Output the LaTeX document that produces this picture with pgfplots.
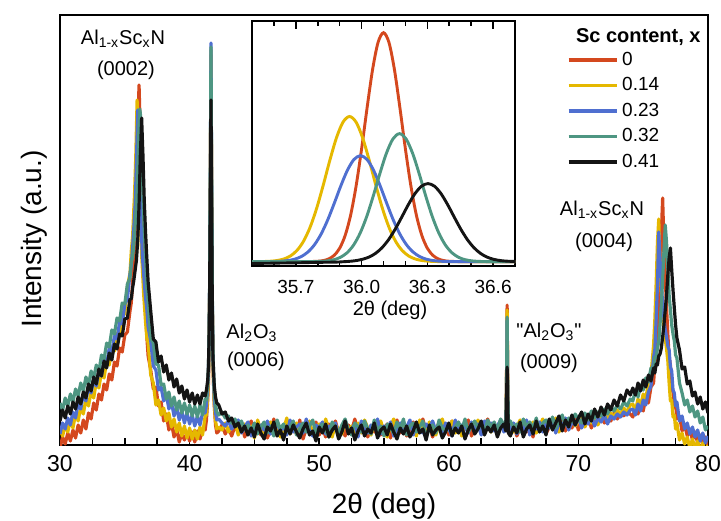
\documentclass[border=0pt]{standalone}
\usepackage{fontspec}
\setmainfont{Liberation Sans}
\newfontfamily\qfont{Liberation Sans}
\usepackage{pgfplots}
\usepackage{pgfplotstable}
\pgfplotsset{compat=1.18}
\definecolor{cR}{HTML}{D4481E}
\definecolor{cY}{HTML}{E5B800}
\definecolor{cB}{HTML}{4F6FD0}
\definecolor{cG}{HTML}{4E9682}
\definecolor{cK}{HTML}{141414}

\pgfplotstableread{
x r y b g k
30.0 -3 16 11 42 24
30.2 8 9 22 35 35
30.4 1 20 16 47 27
30.6 12 13 27 39 39
30.8 4 25 20 51 31
31.0 15 17 33 43 43
31.2 7 31 27 56 36
31.4 20 24 42 49 48
31.6 12 38 36 62 41
31.8 25 31 51 54 53
32.0 16 46 44 68 47
32.2 32 39 59 60 61
32.4 26 54 52 74 54
32.6 42 47 66 67 68
32.8 35 63 59 80 61
33.0 51 57 74 73 76
33.2 45 73 69 90 69
33.4 61 67 86 86 84
33.6 55 84 81 102 77
33.8 71 80 97 98 92
34.0 65 98 93 115 85
34.2 83 94 109 111 101
34.4 79 112 106 127 96
34.6 97 111 123 124 111
34.8 93 130 121 142 109
35.0 110 131 141 141 126
35.2 113 158 146 161 127
35.4 134 172 171 167 146
35.5 142 194 180 183 146
35.6 162 208 197 188 157
35.7 185 237 218 200 165
35.75 198 250 229 210 170
35.8 210 270 240 220 175
35.85 233 290 262 230 180
35.9 257 318 285 240 185
35.95 280 345 310 258 195
36.0 310 322 335 275 205
36.05 340 300 315 298 222
36.1 360 272 295 320 240
36.15 335 245 268 336 265
36.2 302 227 240 332 290
36.25 270 208 223 315 308
36.3 251 190 207 292 327
36.35 231 178 190 270 308
36.4 212 165 181 252 290
36.45 193 152 172 233 268
36.5 175 142 163 215 245
36.6 140 123 147 188 213
36.7 108 107 136 157 187
36.8 89 102 118 143 163
37.0 75 70 104 107 134
37.2 56 62 79 102 106
37.4 58 40 75 81 103
37.6 39 45 55 80 83
37.8 43 30 58 60 89
38.0 24 37 44 61 73
38.2 31 24 51 46 80
38.4 15 32 36 53 65
38.6 22 18 43 39 72
38.8 8 26 29 48 58
39.0 16 13 38 35 66
39.2 3 22 25 44 52
39.4 12 9 34 32 59
39.6 5 19 22 42 46
39.8 12 7 32 31 55
40.0 4 17 21 40 43
40.2 13 6 30 29 52
40.4 3 15 19 39 41
40.6 14 6 29 28 50
40.8 6 18 20 40 41
41.0 16 10 32 30 52
41.2 15 29 32 46 49
41.3 25 30 40 45 55
41.4 45 50 58 62 65
41.45 60 65 72 76 78
41.5 90 95 100 104 105
41.55 150 155 160 165 160
41.6 260 265 270 275 255
41.65 390 395 402 398 345
41.7 250 255 262 268 240
41.75 140 145 150 155 140
41.8 80 82 88 92 88
41.9 40 42 48 55 60
42.0 20 24 32 40 48
42.1 12 16 25 33 42
42.25 14 18 26 30 40
42.5 20 15 22 33 31
42.75 11 22 19 27 33
43 17 13 24 29 24
43.25 9 20 16 22 27
43.5 19 24 21 26 18
43.75 13 10 25 19 22
44 22 17 12 24 13
44.25 8 21 18 15 19
44.5 16 12 23 20 10
44.75 24 19 9 14 17
45 12 7 17 22 8
45.25 18 25 13 11 21
45.5 10 14 20 18 12
45.75 21 9 15 23 6
46 7 18 24 12 18
46.25 15 23 11 19 14
46.5 26 12 16 9 23
46.75 13 20 22 25 9
47 18 8 14 16 15
47.25 9 16 19 21 5
47.5 22 27 10 13 19
47.75 14 11 25 18 11
48 19 17 13 24 20
48.25 11 22 18 10 13
48.5 25 9 21 16 7
48.75 6 19 12 22 16
49 16 14 26 13 22
49.25 20 24 15 19 10
49.5 12 10 9 25 14
49.75 23 18 20 11 4
50 10 21 17 17 18
50.25 17 13 23 21 12
50.5 8 26 11 14 21
50.75 21 15 19 8 8
51 15 8 14 23 15
51.25 24 20 22 17 19
51.5 12 16 10 12 6
51.75 18 11 18 20 13
52 9 23 25 26 24
52.25 20 14 13 15 11
52.5 14 19 16 10 17
52.75 26 9 21 22 5
53 11 22 8 18 14
53.25 17 12 24 13 20
53.5 22 25 15 24 9
53.75 8 17 12 16 16
54 19 10 20 11 12
54.25 13 21 17 25 22
54.5 24 15 26 14 7
54.75 10 24 11 19 15
55 16 13 19 9 18
55.25 21 8 14 21 10
55.5 7 19 23 17 21
55.75 18 26 9 12 13
56 25 11 16 23 6
56.25 12 16 22 15 17
56.5 19 22 13 26 11
56.75 9 12 18 10 19
57 15 20 25 19 8
57.25 23 14 10 22 14
57.5 11 9 20 13 23
57.75 17 25 15 18 12
58 26 18 12 24 16
58.25 13 11 21 8 5
58.5 20 23 17 16 20
58.75 8 15 24 20 10
59 16 10 14 12 15
59.25 22 21 19 25 18
59.5 14 26 11 17 7
59.75 19 13 22 14 13
60 10 18 16 21 22
60.25 24 24 9 11 9
60.5 15 12 25 18 17
60.75 21 19 13 23 12
61 12 9 20 15 19
61.25 18 22 18 26 6
61.5 25 16 12 13 15
61.75 9 20 23 19 21
62 17 14 15 24 11
62.25 22 25 21 16 16
62.5 13 11 10 22 24
62.75 19 18 24 12 10
63 26 23 17 25 18
63.25 14 13 22 18 13
63.5 20 21 14 23 20
63.75 11 16 19 15 8
64 23 24 25 26 17
64.25 18 15 13 20 21
64.4 16 19 17 22 14
64.45 60 58 55 54 40
64.5 140 135 127 128 78
64.55 55 52 50 50 35
64.6 18 16 20 24 12
64.75 12 20 15 24 9
65 21 13 22 17 18
65.25 9 18 11 21 12
65.5 17 25 19 13 23
65.75 24 11 14 26 8
66 13 21 25 18 16
66.25 19 15 10 23 20
66.5 8 23 20 16 11
66.75 22 12 16 27 24
67 15 19 23 14 13
67.25 25 26 13 22 19
67.5 11 14 21 25 10
67.75 18 22 17 19 26
68 24 16 26 28 15
68.25 13 27 12 17 22
68.5 20 13 22 24 29
68.75 26 21 18 30 14
69 14 25 27 20 25
69.25 22 17 15 27 18
69.5 17 28 23 23 30
69.75 27 19 20 31 20
70 15 24 28 26 27
70.25 23 30 17 22 33
70.5 19 18 25 32 21
70.75 28 27 21 25 31
71 17 22 29 34 24
71.25 25 31 19 27 36
71.5 21 20 27 33 28
71.75 30 28 23 29 38
72 22 33 30 36 30
72.25 27 25 21 31 41
72.5 24 32 29 38 35
72.75 32 28 26 34 45
73 26 35 31 40 39
73.25 31 30 28 36 50
73.5 29 37 33 43 44
73.75 34 33 30 39 55
74 31 40 35 46 50
74.2 28 41 36 44 57
74.4 38 34 30 55 50
74.6 31 46 41 48 62
74.8 41 39 34 60 54
75.0 34 51 45 55 65
75.2 47 46 40 67 58
75.4 42 63 53 63 70
75.6 58 70 59 77 64
75.8 62 100 87 76 77
75.9 81 126 96 88 72
76.0 89 162 126 87 81
76.1 112 203 160 97 80
76.2 140 226 213 103 89
76.3 177 180 185 121 91
76.4 212 153 163 142 97
76.5 247 132 140 165 108
76.6 200 115 127 194 120
76.7 167 106 115 220 135
76.8 138 96 108 203 150
76.9 111 84 99 177 170
77.0 88 62 95 150 187
77.1 80 44 78 135 197
77.2 58 45 74 120 175
77.3 53 28 55 111 155
77.4 38 30 52 104 137
77.5 41 16 39 90 120
77.6 26 22 43 87 107
77.8 29 5 24 62 95
78.0 14 12 29 52 76
78.2 20 1 16 40 78
78.4 9 8 22 45 61
78.6 16 -3 11 33 64
78.8 5 6 18 39 49
79.0 13 -4 8 28 53
79.2 2 4 15 34 41
79.4 10 -6 4 22 48
79.6 0 2 12 28 36
79.8 8 -8 2 15 43
80.0 -1 0 9 19 32
}\xrd

\begin{document}
\begin{tikzpicture}
\useasboundingbox (-30pt,-37.5pt) rectangle (330.5pt,222.5pt);
\begin{axis}[
  at={(0pt,0pt)}, anchor=south west, scale only axis,
  width=324pt, height=215pt,
  xmin=30, xmax=80, ymin=0, ymax=430,
  xtick={30,40,50,60,70,80}, minor x tick num=3, ytick=\empty,
  xtick pos=left, tick align=inside,
  major tick length=3.5pt, minor tick length=3.5pt,
  every tick/.style={black, line width=0.8pt},
  axis line style={line width=1pt},
  /pgf/number format/assume math mode=true,
  xticklabel style={font=\fontsize{11.5}{12}\selectfont, inner sep=0pt, yshift=-5pt},
  legend style={draw=none, fill=none, inner sep=0pt, outer sep=0pt,
    at={(axis description cs:0.7824,0.924)}, anchor=north west,
    font=\fontsize{9.5}{9.5}\selectfont, row sep=0.45pt, column sep=0pt,
    nodes={inner sep=2pt, text height=6.9pt, text depth=1.4pt}},
  legend cell align=left,
  legend image code/.code={\draw[#1, line width=1.6pt] (0pt,0pt) -- (24pt,0pt);},
]
\addplot[cR, line width=1.6pt, line join=round] table[x=x, y=r] {\xrd};
\addlegendentry{0}
\addplot[cY, line width=1.6pt, line join=round] table[x=x, y=y] {\xrd};
\addlegendentry{0.14}
\addplot[cB, line width=1.6pt, line join=round] table[x=x, y=b] {\xrd};
\addlegendentry{0.23}
\addplot[cG, line width=1.6pt, line join=round] table[x=x, y=g] {\xrd};
\addlegendentry{0.32}
\addplot[cK, line width=1.6pt, line join=round] table[x=x, y=k] {\xrd};
\addlegendentry{0.41}
\node[anchor=base west, font=\bfseries\fontsize{10}{12}\selectfont] at (axis description cs:0.7855,0.9372) {Sc content, x};
\node[anchor=base, font=\fontsize{10}{12}\selectfont] at (axis cs:34.86,400) {Al\textsubscript{1-x}Sc\textsubscript{x}N};
\node[anchor=base, font=\fontsize{10}{12}\selectfont] at (axis cs:35.09,369) {(0002)};
\node[anchor=base, font=\fontsize{10}{12}\selectfont] at (axis cs:44.81,107) {Al\textsubscript{2}O\textsubscript{3}};
\node[anchor=base, font=\fontsize{10}{12}\selectfont] at (axis cs:45.12,79) {(0006)};
\node[anchor=base, font=\fontsize{10}{12}\selectfont] at (axis cs:67.73,108) {{\qfont"}Al\textsubscript{2}O\textsubscript{3}{\qfont"}};
\node[anchor=base, font=\fontsize{10}{12}\selectfont] at (axis cs:67.73,77) {(0009)};
\node[anchor=base, font=\fontsize{10}{12}\selectfont] at (axis cs:71.82,230) {Al\textsubscript{1-x}Sc\textsubscript{x}N};
\node[anchor=base, font=\fontsize{10}{12}\selectfont] at (axis cs:71.98,198) {(0004)};
\end{axis}

\begin{axis}[
  at={(96pt,89.5pt)}, anchor=south west, scale only axis,
  width=131.5pt, height=122.5pt,
  axis background/.style={fill=white},
  xmin=35.5, xmax=36.7, ymin=-0.019, ymax=1.051,
  xtick={35.7,36.0,36.3,36.6}, xticklabels={35.7,36.0,36.3,36.6},
  minor xtick={35.6,35.8,35.9,36.1,36.2,36.4,36.5},
  ytick=\empty,
  xtick pos=both, xticklabel pos=left, tick align=inside,
  major tick length=4pt, minor tick length=2.5pt,
  every tick/.style={black, line width=0.8pt},
  axis line style={line width=1pt},
  xticklabel style={font=\fontsize{9.5}{10}\selectfont, inner sep=0pt, yshift=-7pt},
]
\addplot[cR, line width=1.45pt, smooth] coordinates {(35.5,0) (35.7,0) (35.75,0.0002) (35.8,0.0017) (35.825,0.0047) (35.85,0.0119) (35.875,0.0277) (35.9,0.0588) (35.925,0.1142) (35.95,0.203) (35.975,0.3305) (36.0,0.492) (36.025,0.671) (36.05,0.838) (36.075,0.957) (36.1,1) (36.125,0.957) (36.15,0.838) (36.175,0.671) (36.2,0.492) (36.225,0.3305) (36.25,0.203) (36.275,0.1142) (36.3,0.0588) (36.325,0.0277) (36.35,0.0119) (36.375,0.0047) (36.4,0.0017) (36.45,0.0002) (36.5,0) (36.7,0)};
\addplot[cY, line width=1.45pt, smooth] coordinates {(35.5,0.0001) (35.525,0.0002) (35.555,0.0007) (35.585,0.0020) (35.615,0.0050) (35.645,0.0116) (35.675,0.0247) (35.705,0.0488) (35.735,0.0891) (35.765,0.150) (35.795,0.233) (35.825,0.334) (35.855,0.442) (35.885,0.540) (35.915,0.609) (35.945,0.634) (35.975,0.609) (36.005,0.540) (36.035,0.442) (36.065,0.334) (36.095,0.233) (36.125,0.150) (36.155,0.0891) (36.185,0.0488) (36.215,0.0247) (36.245,0.0116) (36.275,0.0050) (36.305,0.0020) (36.335,0.0007) (36.365,0.0002) (36.45,0) (36.7,0)};
\addplot[cB, line width=1.45pt, smooth] coordinates {(35.5,0) (35.575,0.0003) (35.605,0.0008) (35.635,0.0021) (35.665,0.0050) (35.695,0.0109) (35.725,0.0222) (35.755,0.0420) (35.785,0.0737) (35.815,0.1200) (35.845,0.1813) (35.875,0.2541) (35.905,0.3304) (35.935,0.3985) (35.965,0.446) (35.995,0.463) (36.025,0.446) (36.055,0.3985) (36.085,0.3304) (36.115,0.2541) (36.145,0.1813) (36.175,0.1200) (36.205,0.0737) (36.235,0.0420) (36.265,0.0222) (36.295,0.0109) (36.325,0.0050) (36.355,0.0021) (36.385,0.0008) (36.415,0.0003) (36.5,0) (36.7,0)};
\addplot[cG, line width=1.45pt, smooth] coordinates {(35.5,0) (35.723,0) (35.783,0.0005) (35.813,0.0013) (35.843,0.0035) (35.873,0.0084) (35.903,0.0187) (35.933,0.0382) (35.963,0.0717) (35.993,0.1236) (36.023,0.1960) (36.053,0.2859) (36.083,0.3833) (36.113,0.4727) (36.143,0.536) (36.173,0.559) (36.203,0.536) (36.233,0.4727) (36.263,0.3833) (36.293,0.2859) (36.323,0.1960) (36.353,0.1236) (36.383,0.0717) (36.413,0.0382) (36.443,0.0187) (36.473,0.0084) (36.503,0.0035) (36.533,0.0013) (36.563,0.0005) (36.623,0) (36.7,0)};
\addplot[cK, line width=1.45pt, smooth] coordinates {(35.5,-0.008) (35.7,-0.005) (35.813,-0.003) (35.883,-0.002) (35.913,-0.0005) (35.943,0.0012) (35.973,0.0044) (36.003,0.0101) (36.033,0.0196) (36.063,0.0357) (36.093,0.0606) (36.123,0.0959) (36.153,0.1413) (36.183,0.1941) (36.213,0.2484) (36.243,0.2962) (36.273,0.3292) (36.303,0.341) (36.333,0.3292) (36.363,0.2962) (36.393,0.2484) (36.423,0.1941) (36.453,0.1413) (36.483,0.0959) (36.513,0.0606) (36.543,0.0357) (36.573,0.0196) (36.603,0.0101) (36.633,0.0048) (36.663,0.0021) (36.7,0.0008)};
\end{axis}

\node[anchor=base, font=\fontsize{10}{12}\selectfont] at (165pt,65pt) {2θ (deg)};
\node[anchor=base, font=\fontsize{14}{16}\selectfont] at (162pt,-34pt) {2θ (deg)};
\node[rotate=90, anchor=base, font=\fontsize{14}{16}\selectfont] at (-9.5pt,103pt) {Intensity (a.u.)};
\end{tikzpicture}
\end{document}
